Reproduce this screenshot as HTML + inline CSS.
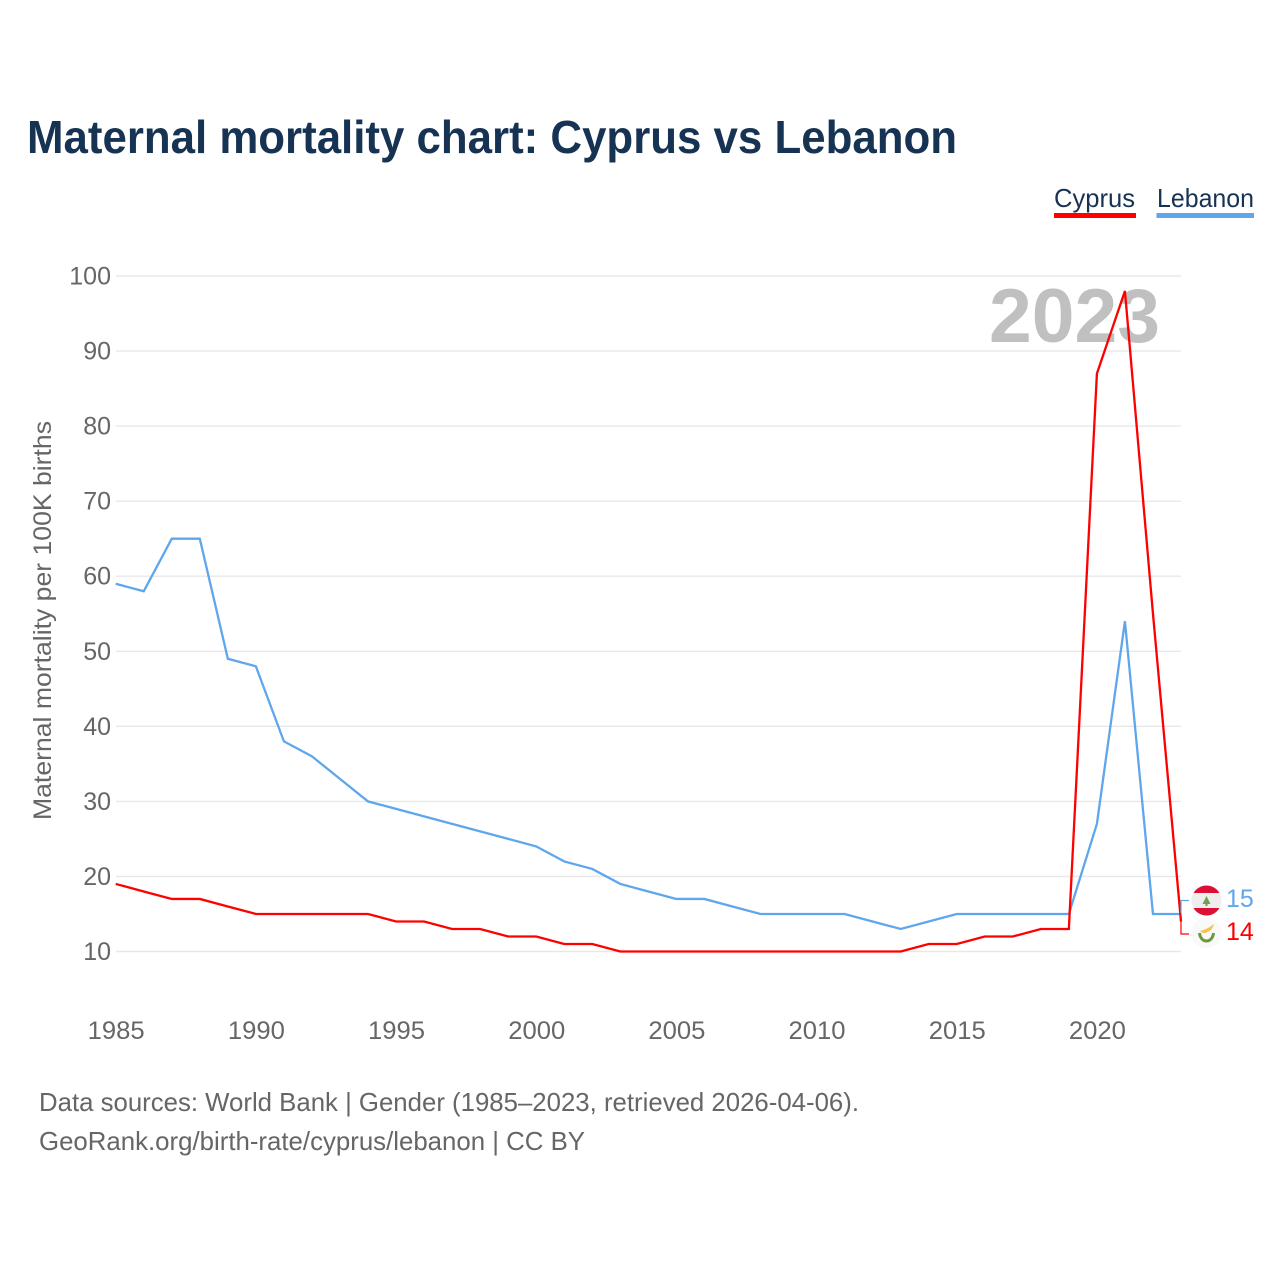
<!DOCTYPE html>
<html lang="en">
<head>
<meta charset="utf-8">
<title>Maternal mortality chart: Cyprus vs Lebanon</title>
<style>
html,body{margin:0;padding:0;background:#fff;width:1280px;height:1280px;overflow:hidden}
svg{display:block}
text{font-family:"Liberation Sans",sans-serif}
</style>
</head>
<body>
<svg id="chart" width="1280" height="1280" viewBox="0 0 1280 1280" xmlns="http://www.w3.org/2000/svg">
  <rect width="1280" height="1280" fill="#fff"/>
  <text x="27" y="153" font-size="46" font-weight="700" fill="#173353" textLength="930" lengthAdjust="spacingAndGlyphs">Maternal mortality chart: Cyprus vs Lebanon</text>

  <g id="grid"></g>
  <text x="1160" y="342" font-size="76" font-weight="700" fill="#c0c0c0" text-anchor="end" textLength="171" lengthAdjust="spacingAndGlyphs">2023</text>
  <g id="yticks"></g>
  <g id="xticks"></g>
  <text transform="translate(51,820) rotate(-90)" x="0" y="0" font-size="25" fill="#666" textLength="399" lengthAdjust="spacingAndGlyphs">Maternal mortality per 100K births</text>

  <path id="line-lebanon" fill="none" stroke="#5fa6ec" stroke-width="2.3" stroke-linejoin="miter"/>
  <path id="line-cyprus" fill="none" stroke="#ff0000" stroke-width="2.3" stroke-linejoin="miter"/>

  <g>
    <g>
      <text x="1054" y="207" font-size="26" fill="#173353" textLength="81" lengthAdjust="spacingAndGlyphs">Cyprus</text>
      <rect x="1054" y="213" width="82" height="5" fill="#ff0000"/>
    </g>
    <g>
      <text x="1157" y="207" font-size="26" fill="#173353" textLength="97" lengthAdjust="spacingAndGlyphs">Lebanon</text>
      <rect x="1156.5" y="213" width="97.5" height="5" fill="#5fa6ec"/>
    </g>
  </g>

  <path d="M1181 913V900.5H1189" fill="none" stroke="#5fa6ec" stroke-width="1.2"/>
  <path d="M1181 918V934H1189" fill="none" stroke="#ff0000" stroke-width="1.2"/>

  <g>
    <circle cx="1206.5" cy="933" r="15" fill="#f9f9f9"/>
    <path d="M1200 931C1204 930 1209 928 1214 924C1213 928 1211 931 1207 932C1205 934 1202 933 1200 931Z" fill="#f6c445"/>
    <path d="M1199.5 933C1200 938 1203 941 1206.5 941C1210 941 1213 938 1213.5 933" fill="none" stroke="#6b9a3a" stroke-width="3"/>
  </g>
  <g>
    <clipPath id="flag-clip"><circle cx="1206.5" cy="900.5" r="15"/></clipPath>
    <g clip-path="url(#flag-clip)">
      <rect x="1191" y="885" width="31" height="31" fill="#eeeeee"/>
      <rect x="1191" y="885" width="31" height="8" fill="#dc0f34"/>
      <rect x="1191" y="908" width="31" height="8" fill="#dc0f34"/>
      <path d="M1206.5 896L1210.5 904H1207.5V906H1205.5V904H1202.5Z" fill="#6fa04a"/>
    </g>
  </g>
  <text x="1226" y="907" font-size="25" fill="#5fa6ec">15</text>
  <text x="1226" y="940" font-size="25" fill="#ff0000">14</text>

  <text x="39" y="1111" font-size="26" fill="#666" textLength="820" lengthAdjust="spacingAndGlyphs">Data sources: World Bank | Gender (1985–2023, retrieved 2026-04-06).</text>
  <text x="39" y="1150" font-size="26" fill="#666" textLength="546" lengthAdjust="spacingAndGlyphs">GeoRank.org/birth-rate/cyprus/lebanon | CC BY</text>
</svg>
<script>
const startYear = 1985;
const endYear = 2023;
const cyprusValues = [19,18,17,17,16,15,15,15,15,15,14,14,13,13,12,12,11,11,10,10,10,10,10,10,10,10,10,10,10,11,11,12,12,13,13,87,98,55,14];
const lebanonValues = [59,58,65,65,49,48,38,36,33,30,29,28,27,26,25,24,22,21,19,18,17,17,16,15,15,15,15,14,13,14,15,15,15,15,15,27,54,15,15];
const yTickValues = [10,20,30,40,50,60,70,80,90,100];
const xTickValues = [1985,1990,1995,2000,2005,2010,2015,2020];

const NS = 'http://www.w3.org/2000/svg';
function xScale(year){ return 115.7 + (year - startYear) * (1181 - 115.7) / (endYear - startYear); }
function yScale(v){ return 951.5 - (v - 10) * (951.5 - 276) / 90; }

const grid = document.getElementById('grid');
const yticks = document.getElementById('yticks');
const xticks = document.getElementById('xticks');

yTickValues.forEach(function(v){
  const l = document.createElementNS(NS,'line');
  
  
  l.setAttribute('x1', 116);
  l.setAttribute('x2', 1181);
  l.setAttribute('y1', yScale(v));
  l.setAttribute('y2', yScale(v));
  l.setAttribute('stroke', '#e8e8e8');
  l.setAttribute('stroke-width', 1.4);
  grid.appendChild(l);

  const t = document.createElementNS(NS,'text');
  
  
  t.setAttribute('x', 111);
  t.setAttribute('y', yScale(v) + 8.5);
  t.setAttribute('font-size', 25);
  t.setAttribute('fill', '#666');
  t.setAttribute('text-anchor', 'end');
  t.textContent = v;
  yticks.appendChild(t);
});

xTickValues.forEach(function(y){
  const t = document.createElementNS(NS,'text');
  
  
  t.setAttribute('x', xScale(y) + 0.5);
  t.setAttribute('y', 1039);
  t.setAttribute('font-size', 25);
  t.setAttribute('fill', '#666');
  t.setAttribute('text-anchor', 'middle');
  t.setAttribute('textLength', 57);
  t.setAttribute('lengthAdjust', 'spacingAndGlyphs');
  t.textContent = y;
  xticks.appendChild(t);
});

function linePath(values){
  return values.map(function(v,i){
    return (i ? 'L' : 'M') + xScale(startYear + i).toFixed(2) + ' ' + yScale(v).toFixed(2);
  }).join('');
}
document.getElementById('line-cyprus').setAttribute('d', linePath(cyprusValues));
document.getElementById('line-lebanon').setAttribute('d', linePath(lebanonValues));
</script>
</body>
</html>
